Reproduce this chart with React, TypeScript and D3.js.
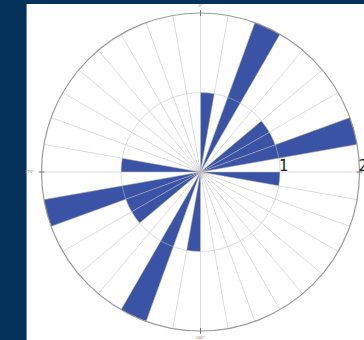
import React from "react";
import * as d3 from "d3";

const sectorStarts: number[] = [0, 10, 20, 30, 40, 50, 60, 70, 80, 90, 100, 110, 120, 130, 140, 150, 160, 170, 180, 190, 200, 210, 220, 230, 240, 250, 260, 270, 280, 290, 300, 310, 320, 330, 340, 350];
const sectorValues: number[] = [1, 0, 2, 0, 0, 1, 1, 2, 0, 1, 0, 0, 0, 0, 0, 0, 0, 0, 1, 0, 2, 0, 0, 1, 1, 2, 0, 1, 0, 0, 0, 0, 0, 0, 0, 0];
const radialTicks: number[] = [1, 2];
const angleLabels: string[] = ["0°", "90°", "180°", "270°"];

const W = 364;
const H = 340;
const cx = 200.5;
const cy = 172;
const R = 159;

export default function App() {
  const r = d3.scaleLinear().domain([0, 2]).range([0, R]);
  const toRad = (deg: number) => (deg * Math.PI) / 180;
  const arc = d3.arc<{ s: number; v: number }>()
    .innerRadius(0)
    .outerRadius((d) => r(d.v))
    .startAngle((d) => toRad(d.s))
    .endAngle((d) => toRad(d.s + 10));
  const bars = sectorStarts.map((s, i) => ({ s, v: sectorValues[i] })).filter((d) => d.v > 0);
  const pt = (deg: number, rad: number) => [Math.sin(toRad(deg)) * rad, -Math.cos(toRad(deg)) * rad];

  return (
    <svg width={W} height={H} style={{ position: "fixed", left: 0, top: 0 }}>
      <rect x={0} y={0} width={W} height={H} fill="#04325a" />
      <rect x={26} y={4} width={W - 26} height={H - 4} fill="#ffffff" />
      <line x1={26.5} y1={4} x2={26.5} y2={H} stroke="#6f88a6" strokeWidth={1} />
      <g transform={`translate(${cx},${cy})`}>
        {bars.map((d, i) => (
          <path key={i} d={arc(d) as string} fill="#3a53a4" />
        ))}
        {sectorStarts.map((s, i) => {
          const [x, y] = pt(s, R);
          return <line key={i} x1={0} y1={0} x2={x} y2={y} stroke="#bdbdbd" strokeOpacity={0.55} strokeWidth={1} />;
        })}
        {radialTicks.slice(0, -1).map((t, i) => (
          <circle key={i} r={r(t)} fill="none" stroke="#bdbdbd" strokeOpacity={0.55} strokeWidth={1} />
        ))}
        <circle r={r(2)} fill="none" stroke="#9a9a9a" strokeWidth={1.2} />
        {[0, 90, 180, 270].map((a, i) => {
          const [x1, y1] = pt(a, R - 3);
          const [x2, y2] = pt(a, R + 3);
          return <line key={i} x1={x1} y1={y1} x2={x2} y2={y2} stroke="#777" strokeWidth={1} />;
        })}
        {[0, 90, 180, 270].map((a, i) => {
          const [x, y] = pt(a, R + 7);
          return (
            <text key={i} x={x} y={y} fontSize={4} fill="#a08a70" fontFamily="DejaVu Sans, sans-serif"
              textAnchor={a === 90 ? "start" : a === 270 ? "end" : "middle"} dominantBaseline="middle">
              {angleLabels[i]}
            </text>
          );
        })}
        {radialTicks.map((t, i) => (
          <text key={i} x={r(t) - 1} y={-1} fontSize={15} fill="#222" fontFamily="DejaVu Sans, sans-serif">
            {t}
          </text>
        ))}
      </g>
    </svg>
  );
}
